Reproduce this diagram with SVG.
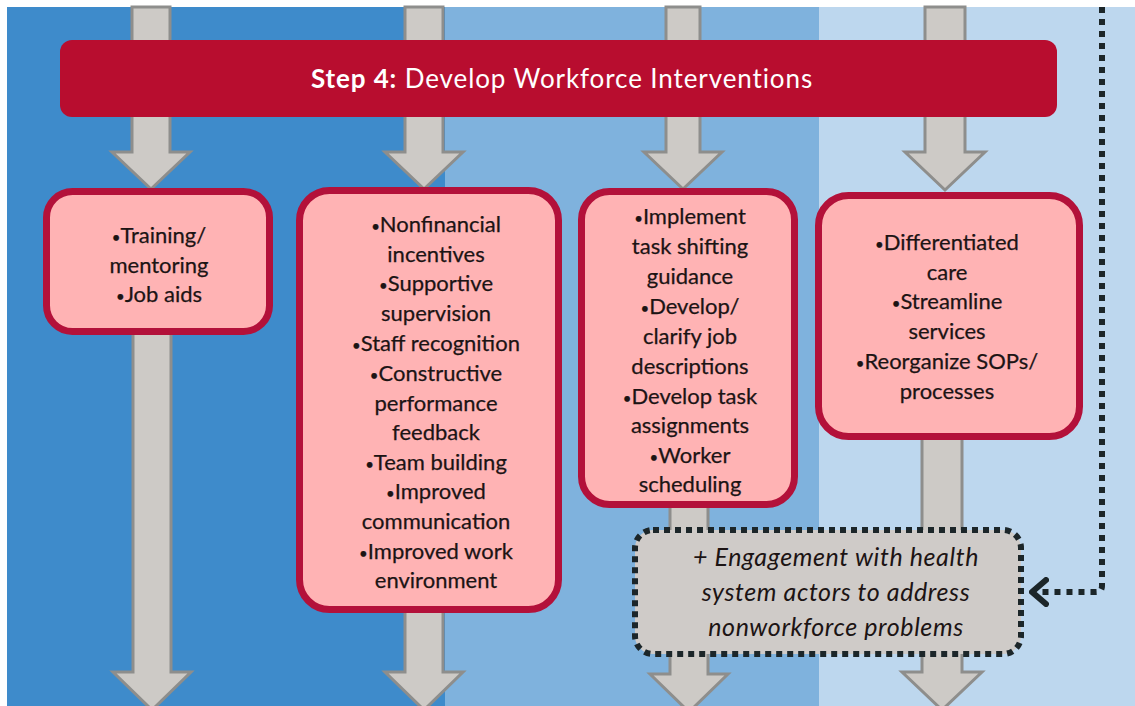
<svg xmlns="http://www.w3.org/2000/svg" width="1135" height="706" viewBox="0 0 1135 706">
<defs>
<style>
.arrow{fill:#cdcac6;stroke:#8e8e8c;stroke-width:3;stroke-linejoin:miter}
.box{fill:#ffb3b4;stroke:#b3113a;stroke-width:7}
.txt{font-family:Lato,"Noto Sans","Liberation Sans",sans-serif;font-size:22px;fill:#1c1414;text-anchor:middle;stroke:#1c1414;stroke-width:0.25}
.b{font-size:15px}
.note{font-family:Lato,"Noto Sans","Liberation Sans",sans-serif;font-size:25px;font-style:italic;letter-spacing:0.6px;fill:#1c1414;text-anchor:middle}
.head{font-family:Lato,"Noto Sans","Liberation Sans",sans-serif;font-size:26px;letter-spacing:0.9px;fill:#ffffff;text-anchor:middle}
.dots{fill:none;stroke:#1c2629;stroke-width:6;stroke-dasharray:6 6}
</style>
<marker id="chev" viewBox="0 0 20 30" refX="17" refY="15" markerWidth="20" markerHeight="30" markerUnits="userSpaceOnUse" orient="auto">
<path d="M3,3 L17,15 L3,27" fill="none" stroke="#1c2629" stroke-width="6" stroke-linecap="round" stroke-linejoin="round"/>
</marker>
</defs>
<g id="background">
<rect x="0" y="0" width="1135" height="706" fill="#ffffff"/>
<rect x="7" y="7" width="438" height="699" fill="#3e8bcb"/>
<rect x="445" y="7" width="374" height="699" fill="#7fb2dd"/>
<rect x="819" y="7" width="316" height="699" fill="#bdd7ee"/>
</g>
<g id="connectors">
<polygon class="arrow" points="132,7 170,7 170,152 190,152 151,189 112,152 132,152"/>
<polygon class="arrow" points="405,7 443,7 443,152 463,152 424,189 385,152 405,152"/>
<polygon class="arrow" points="666,7 700,7 700,152 722,152 683,189 644,152 666,152"/>
<polygon class="arrow" points="925,7 965,7 965,152 985,152 945,190 905,152 925,152"/>
<polygon class="arrow" points="133,300 171,300 171,672 191,672 152,710 113,672 133,672"/>
<polygon class="arrow" points="405,580 443,580 443,672 463,672 424,710 385,672 405,672"/>
<polygon class="arrow" points="670,480 708,480 708,674 728,674 689,712 650,674 670,674"/>
<polygon class="arrow" points="922,420 962,420 962,672 982,672 942,710 902,672 922,672"/>
<path class="dots" d="M1102,7 L1102,586 Q1102,592 1096,592 L1032,592" marker-end="url(#chev)"/>
</g>
<g id="header">
<rect x="60" y="40" width="997" height="77" rx="12" fill="#b80d2f"/>
<text class="head" x="562" y="88"><tspan font-weight="bold">Step 4:</tspan> Develop Workforce Interventions</text>
</g>
<g id="box1">
<rect class="box" x="46.5" y="191.5" width="223" height="140" rx="26"/>
<text class="txt"><tspan x="159" y="243"><tspan class="b">•</tspan>Training/</tspan><tspan x="159" y="273">mentoring</tspan><tspan x="159" y="302"><tspan class="b">•</tspan>Job aids</tspan></text>
</g>
<g id="box2">
<rect class="box" x="299.5" y="190.5" width="259" height="419" rx="30"/>
<text class="txt"><tspan x="436" y="232"><tspan class="b">•</tspan>Nonfinancial</tspan><tspan x="436" y="262">incentives</tspan><tspan x="436" y="291"><tspan class="b">•</tspan>Supportive</tspan><tspan x="436" y="321">supervision</tspan><tspan x="436" y="351"><tspan class="b">•</tspan>Staff recognition</tspan><tspan x="436" y="381"><tspan class="b">•</tspan>Constructive</tspan><tspan x="436" y="411">performance</tspan><tspan x="436" y="440">feedback</tspan><tspan x="436" y="470"><tspan class="b">•</tspan>Team building</tspan><tspan x="436" y="499"><tspan class="b">•</tspan>Improved</tspan><tspan x="436" y="529">communication</tspan><tspan x="436" y="559"><tspan class="b">•</tspan>Improved work</tspan><tspan x="436" y="588">environment</tspan></text>
</g>
<g id="box3">
<rect class="box" x="581.5" y="191.5" width="213" height="313" rx="28"/>
<text class="txt"><tspan x="690" y="224"><tspan class="b">•</tspan>Implement</tspan><tspan x="690" y="254">task shifting</tspan><tspan x="690" y="284">guidance</tspan><tspan x="690" y="314"><tspan class="b">•</tspan>Develop/</tspan><tspan x="690" y="344">clarify job</tspan><tspan x="690" y="374">descriptions</tspan><tspan x="690" y="404"><tspan class="b">•</tspan>Develop task</tspan><tspan x="690" y="433">assignments</tspan><tspan x="690" y="463"><tspan class="b">•</tspan>Worker</tspan><tspan x="690" y="492">scheduling</tspan></text>
</g>
<g id="box4">
<rect class="box" x="818.5" y="195.5" width="261" height="241" rx="30"/>
<text class="txt"><tspan x="947" y="250"><tspan class="b">•</tspan>Differentiated</tspan><tspan x="947" y="280">care</tspan><tspan x="947" y="309"><tspan class="b">•</tspan>Streamline</tspan><tspan x="947" y="339">services</tspan><tspan x="947" y="369"><tspan class="b">•</tspan>Reorganize SOPs/</tspan><tspan x="947" y="399">processes</tspan></text>
</g>
<g id="note">
<rect x="635" y="530" width="386" height="124" rx="18" fill="#cfcbc8" stroke="#1c2629" stroke-width="6" stroke-dasharray="6 5"/>
<text class="note"><tspan x="836" y="566">+ Engagement with health</tspan><tspan x="836" y="601">system actors to address</tspan><tspan x="836" y="636">nonworkforce problems</tspan></text>
</g>
</svg>
